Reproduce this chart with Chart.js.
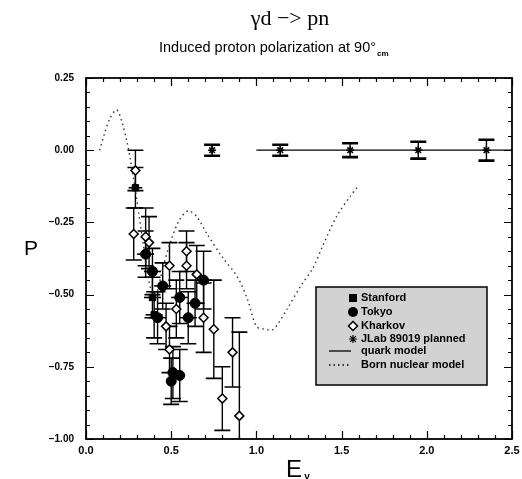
<!DOCTYPE html>
<html><head><meta charset="utf-8">
<script src="https://cdn.jsdelivr.net/npm/chart.js@4/dist/chart.umd.min.js"></script>
<style>html,body{margin:0;padding:0;background:#fff}</style>
</head><body>
<canvas id="c" width="522" height="479"></canvas>
<script>
// ---- data ----
const stanfordE   = [0.29, 0.39, 0.40];
const stanfordP   = [-0.13, -0.51, -0.57];
const stanfordErr = [0.07, 0.07, 0.08];
const stanfordXErr= [0.04, 0.05, 0.05];

const tokyoE   = [0.35, 0.39, 0.45, 0.42, 0.55, 0.60, 0.64, 0.69, 0.51, 0.55, 0.50];
const tokyoP   = [-0.36, -0.42, -0.47, -0.58, -0.51, -0.58, -0.53, -0.45, -0.77, -0.78, -0.80];
const tokyoErr = [0.08, 0.08, 0.08, 0.09, 0.09, 0.09, 0.08, 0.10, 0.09, 0.09, 0.08];
const tokyoXErr= [0.05, 0.05, 0.05, 0.05, 0.05, 0.05, 0.05, 0.05, 0.03, 0.03, 0.03];

const kharkovE   = [0.29, 0.28, 0.35, 0.37, 0.49, 0.47, 0.49, 0.53, 0.59, 0.59, 0.65, 0.69, 0.75, 0.86, 0.80, 0.90];
const kharkovP   = [-0.07, -0.29, -0.30, -0.32, -0.40, -0.61, -0.69, -0.55, -0.35, -0.40, -0.43, -0.58, -0.62, -0.70, -0.86, -0.92];
const kharkovErr = [0.07, 0.09, 0.10, 0.09, 0.08, 0.08, 0.08, 0.10, 0.07, 0.08, 0.10, 0.12, 0.17, 0.12, 0.11, 0.29];
const kharkovXErr= [0.025,0.025,0.025,0.025,0.025,0.025,0.025,0.025,0.025,0.025,0.025,0.025,0.025,0.025,0.025,0.025];

const jlabE   = [0.74, 1.14, 1.55, 1.95, 2.35];
const jlabP   = [0.0, 0.0, 0.0, 0.0, 0.0];
const jlabErr = [0.019, 0.019, 0.024, 0.029, 0.036];

const quarkE = [1.0, 2.5];
const quarkP = [0.0, 0.0];

const bornE = [0.08,0.11,0.14,0.18,0.21,0.24,0.26,0.28,0.31,0.35,0.38,0.41,0.45,0.50,0.55,0.60,0.65,0.71,0.80,0.89,0.95,1.00,1.05,1.10,1.18,1.26,1.33,1.39,1.47,1.55,1.59];
const bornP = [0.00,0.06,0.11,0.14,0.10,0.03,-0.03,-0.10,-0.22,-0.38,-0.48,-0.50,-0.41,-0.31,-0.24,-0.21,-0.23,-0.29,-0.37,-0.44,-0.52,-0.61,-0.62,-0.62,-0.55,-0.47,-0.41,-0.33,-0.23,-0.16,-0.13];

const xTicks = [0.0, 0.5, 1.0, 1.5, 2.0, 2.5];
const yTicks = [0.25, 0.00, -0.25, -0.50, -0.75, -1.00];

const legendLabels = ['Stanford', 'Tokyo', 'Kharkov', 'JLab 89019 planned', 'quark model', 'Born nuclear model'];

// ---- helpers ----
const pts = (xs, ys) => xs.map((x, i) => ({x: x, y: ys[i]}));
const minus = s => s.replace('-', '\u2212');

const errorBars = {
  id: 'errorBars',
  beforeDatasetsDraw(chart) {
    const ctx = chart.ctx, xs = chart.scales.x, ys = chart.scales.y, a = chart.chartArea;
    ctx.save();
    ctx.beginPath(); ctx.rect(a.left, a.top, a.right - a.left, a.bottom - a.top); ctx.clip();
    chart.data.datasets.forEach(ds => {
      if (!ds.yerr) return;
      ctx.strokeStyle = '#000';
      ds.data.forEach((p, i) => {
        const px = xs.getPixelForValue(p.x), py = ys.getPixelForValue(p.y);
        const y1 = ys.getPixelForValue(p.y + ds.yerr[i]), y2 = ys.getPixelForValue(p.y - ds.yerr[i]);
        ctx.lineWidth = ds.barWidth || 1.4;
        ctx.beginPath(); ctx.moveTo(px, y1); ctx.lineTo(px, y2); ctx.stroke();
        ctx.lineWidth = ds.capWidth || 1.6;
        const cw = ds.cap || 8;
        ctx.beginPath();
        ctx.moveTo(px - cw, y1); ctx.lineTo(px + cw, y1);
        ctx.moveTo(px - cw, y2); ctx.lineTo(px + cw, y2);
        ctx.stroke();
        if (ds.xerr) {
          const x1 = xs.getPixelForValue(p.x - ds.xerr[i]), x2 = xs.getPixelForValue(p.x + ds.xerr[i]);
          ctx.lineWidth = 1.6;
          ctx.beginPath(); ctx.moveTo(x1, py); ctx.lineTo(x2, py); ctx.stroke();
        }
      });
    });
    ctx.restore();
  }
};

const frameAndText = {
  id: 'frameAndText',
  afterDraw(chart) {
    const ctx = chart.ctx, a = chart.chartArea, xs = chart.scales.x, ys = chart.scales.y;
    ctx.save();
    ctx.strokeStyle = '#000';
    // inward ticks
    ctx.lineWidth = 1.2;
    ctx.beginPath();
    for (let k = 0; k <= 25; k++) {
      const v = k * 0.1, px = Math.round(xs.getPixelForValue(v)) + 0.5;
      const len = (k % 5 === 0) ? 8 : 4;
      ctx.moveTo(px, a.bottom); ctx.lineTo(px, a.bottom - len);
      ctx.moveTo(px, a.top); ctx.lineTo(px, a.top + len);
    }
    for (let k = 0; k <= 25; k++) {
      const v = -1 + k * 0.05, py = Math.round(ys.getPixelForValue(v)) + 0.5;
      const len = (k % 5 === 0) ? 8 : 4;
      ctx.moveTo(a.left, py); ctx.lineTo(a.left + len, py);
      ctx.moveTo(a.right, py); ctx.lineTo(a.right - len, py);
    }
    ctx.stroke();
    // frame
    ctx.lineWidth = 1.8;
    ctx.strokeRect(a.left, a.top, a.right - a.left, a.bottom - a.top);

    // titles
    ctx.fillStyle = '#000';
    ctx.textBaseline = 'middle';
    ctx.textAlign = 'center';
    ctx.font = '22px "Liberation Serif", "DejaVu Serif", serif';
    ctx.fillText('\u03B3d \u2212> pn', 290, 19);
    ctx.font = '14.5px "Liberation Sans", Arial, sans-serif';
    ctx.textAlign = 'left';
    const sub = 'Induced proton polarization at 90\u00B0';
    const w = ctx.measureText(sub).width;
    const sx = 376 - w;
    ctx.fillText(sub, sx, 48);
    ctx.font = 'bold 8px "Liberation Sans", Arial, sans-serif';
    ctx.fillText('cm', sx + w + 1, 54);
    // axis titles
    ctx.font = '21px "Liberation Sans", Arial, sans-serif';
    ctx.textAlign = 'center';
    ctx.fillText('P', 31, 249);
    ctx.font = '24px "Liberation Sans", Arial, sans-serif';
    ctx.fillText('E', 294, 470);
    ctx.font = 'bold 10px "Liberation Sans", Arial, sans-serif';
    ctx.fillText('\u03B3', 307, 477);

    // legend
    const L = 316, T = 287, R = 487, B = 385;
    ctx.fillStyle = '#d2d2d2';
    ctx.fillRect(L, T, R - L, B - T);
    ctx.lineWidth = 1.5;
    ctx.strokeRect(L, T, R - L, B - T);
    ctx.fillStyle = '#000';
    ctx.font = 'bold 11px "Liberation Sans", Arial, sans-serif';
    ctx.textAlign = 'left';
    const rows = [298, 312, 326, 339, 351, 365];
    const sxm = 353, tx = 361;
    ctx.fillRect(sxm - 4, rows[0] - 4, 8, 8);
    ctx.beginPath(); ctx.arc(sxm, rows[1], 5, 0, Math.PI * 2); ctx.fill();
    ctx.beginPath();
    ctx.moveTo(sxm, rows[2] - 4.5); ctx.lineTo(sxm + 4.5, rows[2]); ctx.lineTo(sxm, rows[2] + 4.5); ctx.lineTo(sxm - 4.5, rows[2]); ctx.closePath();
    ctx.fillStyle = '#fff'; ctx.fill(); ctx.lineWidth = 1.5; ctx.stroke();
    ctx.fillStyle = '#000';
    ctx.lineWidth = 1.2;
    ctx.beginPath();
    for (let k = 0; k < 4; k++) {
      const an = k * Math.PI / 4;
      ctx.moveTo(sxm - 4 * Math.cos(an), rows[3] - 4 * Math.sin(an));
      ctx.lineTo(sxm + 4 * Math.cos(an), rows[3] + 4 * Math.sin(an));
    }
    ctx.stroke();
    ctx.lineWidth = 1.3;
    ctx.beginPath(); ctx.moveTo(329, rows[4]); ctx.lineTo(351, rows[4]); ctx.stroke();
    ctx.setLineDash([1.5, 3]);
    ctx.beginPath(); ctx.moveTo(329, rows[5]); ctx.lineTo(351, rows[5]); ctx.stroke();
    ctx.setLineDash([]);
    legendLabels.forEach((t, i) => ctx.fillText(t, tx, rows[i]));
    ctx.restore();
  }
};

new Chart(document.getElementById('c'), {
  type: 'scatter',
  data: {
    datasets: [
      { label: legendLabels[0], data: pts(stanfordE, stanfordP), yerr: stanfordErr, xerr: stanfordXErr, cap: 8,
        pointStyle: 'rect', pointRadius: 4.5, backgroundColor: '#000', borderColor: '#000', borderWidth: 1, order: 1 },
      { label: legendLabels[1], data: pts(tokyoE, tokyoP), yerr: tokyoErr, xerr: tokyoXErr, cap: 8,
        pointStyle: 'circle', pointRadius: 5, backgroundColor: '#000', borderColor: '#000', borderWidth: 1, order: 2 },
      { label: legendLabels[2], data: pts(kharkovE, kharkovP), yerr: kharkovErr, xerr: kharkovXErr, cap: 8,
        pointStyle: 'rectRot', pointRadius: 4.5, backgroundColor: '#fff', borderColor: '#000', borderWidth: 1.5, order: 0 },
      { label: legendLabels[3], data: pts(jlabE, jlabP), yerr: jlabErr, cap: 8, capWidth: 2.6,
        pointStyle: 'star', pointRadius: 4, backgroundColor: '#000', borderColor: '#000', borderWidth: 1.5, order: 3 },
      { label: legendLabels[4], data: pts(quarkE, quarkP), showLine: true, pointRadius: 0,
        borderColor: '#000', borderWidth: 1.3, order: 4 },
      { label: legendLabels[5], data: pts(bornE, bornP), showLine: true, pointRadius: 0, tension: 0.3,
        borderColor: '#333', borderWidth: 1.4, borderDash: [1.5, 3.5], order: 5 }
    ]
  },
  options: {
    responsive: false,
    animation: false,
    events: [],
    layout: { padding: { top: 78, right: 10, left: 0, bottom: 0 } },
    plugins: { legend: { display: false }, tooltip: { enabled: false }, title: { display: false } },
    scales: {
      x: {
        type: 'linear', min: 0, max: 2.5,
        afterFit: s => { s.height = 40; },
        afterBuildTicks: s => { s.ticks = xTicks.map(v => ({value: v})); },
        grid: { display: false }, border: { display: false },
        ticks: { padding: -3, color: '#000', font: { family: '"Liberation Sans", Arial, sans-serif', size: 11, weight: 'bold' },
                 callback: v => minus(Number(v).toFixed(1)), maxRotation: 0 }
      },
      y: {
        type: 'linear', min: -1, max: 0.25,
        afterFit: s => { s.width = 86; },
        afterBuildTicks: s => { s.ticks = yTicks.map(v => ({value: v})); },
        grid: { display: false }, border: { display: false },
        ticks: { padding: 4, color: '#000', font: { family: '"Liberation Sans", Arial, sans-serif', size: 10, weight: 'bold' },
                 callback: v => minus(Number(v).toFixed(2)) }
      }
    }
  },
  plugins: [errorBars, frameAndText]
});
</script>
</body></html>
